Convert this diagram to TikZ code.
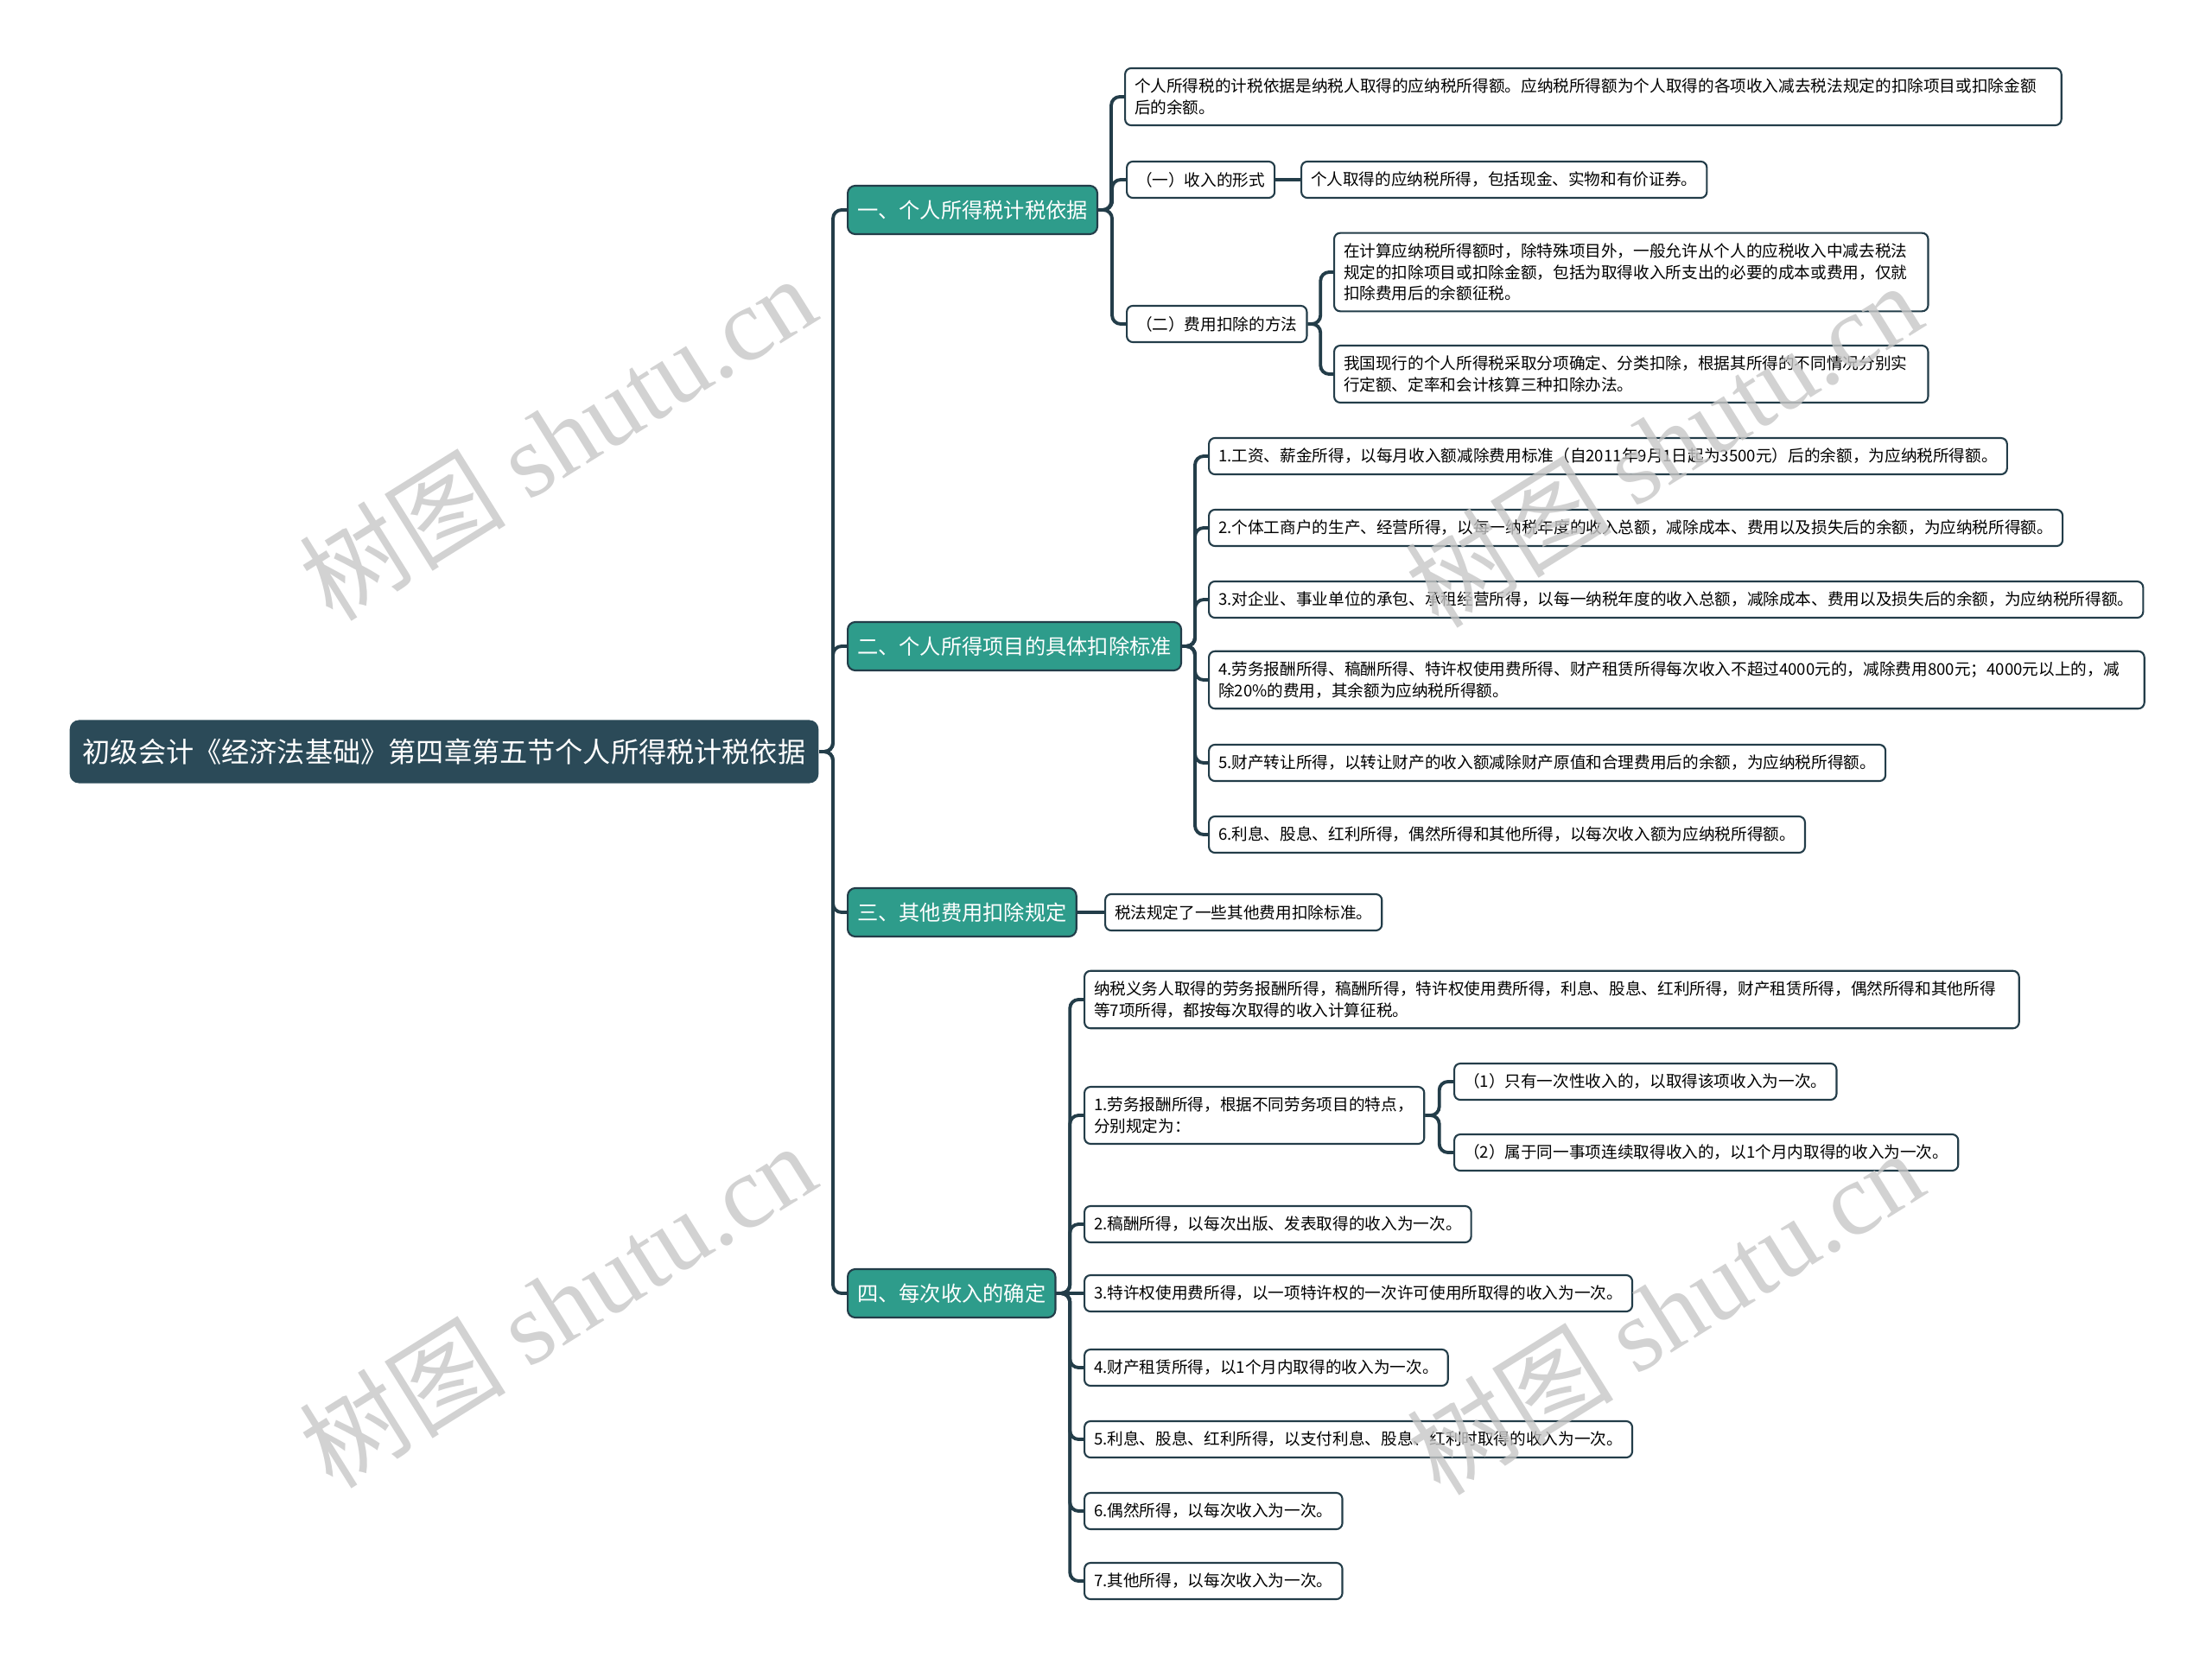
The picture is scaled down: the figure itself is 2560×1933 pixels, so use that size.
\documentclass[tikz,border=0pt]{standalone}
\usepackage{fontspec}
\setmainfont{Noto Sans CJK SC}
\newfontfamily\wmserif{Liberation Serif}
\usepackage{xcolor}
\usetikzlibrary{positioning,calc}
\definecolor{rootslate}{RGB}{43,74,88}
\definecolor{branchteal}{RGB}{46,156,139}
\definecolor{linkdark}{RGB}{35,61,73}

\begin{document}
\begin{tikzpicture}[
  x=0.01cm, y=-0.01cm,
  root/.style={fill=rootslate, text=white, rounded corners=3pt, anchor=west,
               inner xsep=0.15cm, minimum height=0.73cm,
               font=\fontsize{9.15}{11}\selectfont},
  branch/.style={draw=linkdark, line width=0.6pt, fill=branchteal, text=white,
                 rounded corners=2.5pt, anchor=west, inner xsep=0.11cm,
                 minimum height=0.56cm, font=\fontsize{6.9}{8}\selectfont},
  leaf/.style={draw=linkdark, line width=0.6pt, fill=white, rounded corners=2pt,
               anchor=west, align=left, inner xsep=0.11cm, inner ysep=0.12cm,
               minimum height=0.42cm, font=\fontsize{5.3}{7}\selectfont},
  link/.style={draw=linkdark, line width=1.1pt, rounded corners=0.1cm},
  wmtext/.style={text=black!22, opacity=0.8, rotate=32,
                 font=\fontsize{34}{34}\selectfont}
]
\fill[white] (0,0) rectangle (2560,1933);
\useasboundingbox (0,0) rectangle (2560,1933);

% root and main branches
\node[root] (root) at (80,870) {初级会计《经济法基础》第四章第五节个人所得税计税依据};
\node[branch] (b1) at (980,243) {一、个人所得税计税依据};
\node[branch] (b2) at (980,748) {二、个人所得项目的具体扣除标准};
\node[branch] (b3) at (980,1056) {三、其他费用扣除规定};
\node[branch] (b4) at (980,1497) {四、每次收入的确定};

% branch 1
\node[leaf, text width=10.61cm] (a1) at (1301,112) {个人所得税的计税依据是纳税人取得的应纳税所得额。应纳税所得额为个人取得的各项收入减去税法规定的扣除项目或扣除金额\\后的余额。};
\node[leaf] (s1) at (1303,208) {（一）收入的形式};
\node[leaf] (s1x) at (1505,208) {个人取得的应纳税所得，包括现金、实物和有价证券。};
\node[leaf] (s2) at (1303,375) {（二）费用扣除的方法};
\node[leaf, text width=6.65cm] (s2a) at (1543,315) {在计算应纳税所得额时，除特殊项目外，一般允许从个人的应税收入中减去税法\\规定的扣除项目或扣除金额，包括为取得收入所支出的必要的成本或费用，仅就\\扣除费用后的余额征税。};
\node[leaf, text width=6.65cm] (s2b) at (1543,433) {我国现行的个人所得税采取分项确定、分类扣除，根据其所得的不同情况分别实\\行定额、定率和会计核算三种扣除办法。};

% branch 2
\node[leaf] (c1) at (1398,528) {1.工资、薪金所得，以每月收入额减除费用标准（自2011年9月1日起为3500元）后的余额，为应纳税所得额。};
\node[leaf] (c2) at (1398,611) {2.个体工商户的生产、经营所得，以每一纳税年度的收入总额，减除成本、费用以及损失后的余额，为应纳税所得额。};
\node[leaf] (c3) at (1398,694) {3.对企业、事业单位的承包、承租经营所得，以每一纳税年度的收入总额，减除成本、费用以及损失后的余额，为应纳税所得额。};
\node[leaf, text width=10.6cm] (c4) at (1398,787) {4.劳务报酬所得、稿酬所得、特许权使用费所得、财产租赁所得每次收入不超过4000元的，减除费用800元；4000元以上的，减\\除20\%的费用，其余额为应纳税所得额。};
\node[leaf] (c5) at (1398,883) {5.财产转让所得，以转让财产的收入额减除财产原值和合理费用后的余额，为应纳税所得额。};
\node[leaf] (c6) at (1398,966) {6.利息、股息、红利所得，偶然所得和其他所得，以每次收入额为应纳税所得额。};

% branch 3
\node[leaf] (e1) at (1278,1056) {税法规定了一些其他费用扣除标准。};

% branch 4
\node[leaf, text width=10.59cm] (d0) at (1254,1157) {纳税义务人取得的劳务报酬所得，稿酬所得，特许权使用费所得，利息、股息、红利所得，财产租赁所得，偶然所得和其他所得\\等7项所得，都按每次取得的收入计算征税。};
\node[leaf, text width=3.71cm] (d1) at (1254,1291) {1.劳务报酬所得，根据不同劳务项目的特点，\\分别规定为：};
\node[leaf] (d1a) at (1682,1252) {（1）只有一次性收入的，以取得该项收入为一次。};
\node[leaf] (d1b) at (1682,1334) {（2）属于同一事项连续取得收入的，以1个月内取得的收入为一次。};
\node[leaf] (d2) at (1254,1417) {2.稿酬所得，以每次出版、发表取得的收入为一次。};
\node[leaf] (d3) at (1254,1497) {3.特许权使用费所得，以一项特许权的一次许可使用所取得的收入为一次。};
\node[leaf] (d4) at (1254,1583) {4.财产租赁所得，以1个月内取得的收入为一次。};
\node[leaf] (d5) at (1254,1666) {5.利息、股息、红利所得，以支付利息、股息、红利时取得的收入为一次。};
\node[leaf] (d6) at (1254,1749) {6.偶然所得，以每次收入为一次。};
\node[leaf] (d7) at (1254,1830) {7.其他所得，以每次收入为一次。};

% connectors
\draw[link] (root.east) -| ($(root.east)!0.5!(b1.west)$) |- (b1.west);
\draw[link] (root.east) -| ($(root.east)!0.5!(b2.west)$) |- (b2.west);
\draw[link] (root.east) -| ($(root.east)!0.5!(b3.west)$) |- (b3.west);
\draw[link] (root.east) -| ($(root.east)!0.5!(b4.west)$) |- (b4.west);

\draw[link] (b1.east) -| ($(b1.east)!0.5!(a1.west)$) |- (a1.west);
\draw[link] (b1.east) -| ($(b1.east)!0.5!(s1.west)$) |- (s1.west);
\draw[link] (b1.east) -| ($(b1.east)!0.5!(s2.west)$) |- (s2.west);
\draw[link] (s1.east) -- (s1x.west);
\draw[link] (s2.east) -| ($(s2.east)!0.5!(s2a.west)$) |- (s2a.west);
\draw[link] (s2.east) -| ($(s2.east)!0.5!(s2b.west)$) |- (s2b.west);

\draw[link] (b2.east) -| ($(b2.east)!0.5!(c1.west)$) |- (c1.west);
\draw[link] (b2.east) -| ($(b2.east)!0.5!(c2.west)$) |- (c2.west);
\draw[link] (b2.east) -| ($(b2.east)!0.5!(c3.west)$) |- (c3.west);
\draw[link] (b2.east) -| ($(b2.east)!0.5!(c4.west)$) |- (c4.west);
\draw[link] (b2.east) -| ($(b2.east)!0.5!(c5.west)$) |- (c5.west);
\draw[link] (b2.east) -| ($(b2.east)!0.5!(c6.west)$) |- (c6.west);

\draw[link] (b3.east) -- (e1.west);

\draw[link] (b4.east) -| ($(b4.east)!0.5!(d0.west)$) |- (d0.west);
\draw[link] (b4.east) -| ($(b4.east)!0.5!(d1.west)$) |- (d1.west);
\draw[link] (b4.east) -| ($(b4.east)!0.5!(d2.west)$) |- (d2.west);
\draw[link] (b4.east) -- (d3.west);
\draw[link] (b4.east) -| ($(b4.east)!0.5!(d4.west)$) |- (d4.west);
\draw[link] (b4.east) -| ($(b4.east)!0.5!(d5.west)$) |- (d5.west);
\draw[link] (b4.east) -| ($(b4.east)!0.5!(d6.west)$) |- (d6.west);
\draw[link] (b4.east) -| ($(b4.east)!0.5!(d7.west)$) |- (d7.west);
\draw[link] (d1.east) -| ($(d1.east)!0.5!(d1a.west)$) |- (d1a.west);
\draw[link] (d1.east) -| ($(d1.east)!0.5!(d1b.west)$) |- (d1b.west);

% watermark
\node[wmtext] (wm1) at (645,506) {树图 {\wmserif shutu.cn}};
\node[wmtext] (wm2) at (1925,514) {树图 {\wmserif shutu.cn}};
\node[wmtext] (wm3) at (645,1510) {树图 {\wmserif shutu.cn}};
\node[wmtext] (wm4) at (1927,1518) {树图 {\wmserif shutu.cn}};
\end{tikzpicture}
\end{document}
